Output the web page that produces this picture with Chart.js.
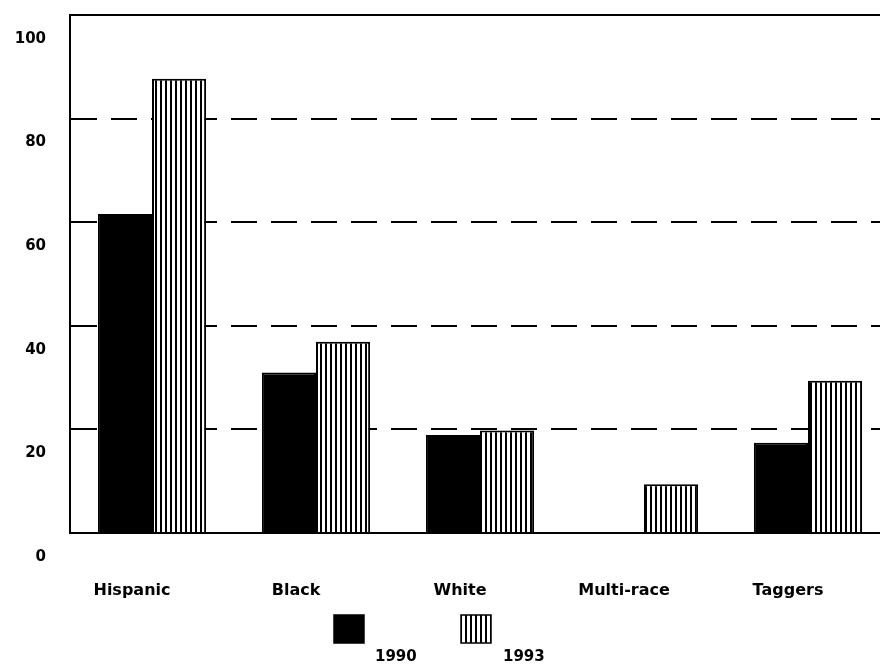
<!DOCTYPE html>
<html>
<head>
<meta charset="utf-8">
<title>1990 vs 1993</title>
<script src="https://cdn.jsdelivr.net/npm/chart.js@4.4.1/dist/chart.umd.min.js"></script>
<style>
  html, body { margin: 0; padding: 0; background: #fff; overflow: hidden; }
  #wrap { position: absolute; left: 0; top: 0; width: 890px; height: 666px; }
</style>
</head>
<body>
<div id="wrap"><canvas id="chart" width="890" height="666"></canvas></div>
<script>
// data
const categories = ['Hispanic', 'Black', 'White', 'Multi-race', 'Taggers'];
const values1990 = [61.6, 31.0, 18.9, null, 17.4];
const values1993 = [87.7, 36.9, 19.8, 9.4, 29.4];
const yTicks = [0, 20, 40, 60, 80, 100];
const seriesNames = ['1990', '1993'];

const FONT = '"DejaVu Sans", sans-serif';

// vertical hatch used for the 1993 bars
function makeHatch() {
    const c = document.createElement('canvas');
    c.width = 5; c.height = 5;
    const g = c.getContext('2d');
    g.fillStyle = '#fff';
    g.fillRect(0, 0, 5, 5);
    g.fillStyle = '#000';
    g.fillRect(0, 0, 2, 5);
    return g.createPattern(c, 'repeat');
}

const ctx = document.getElementById('chart').getContext('2d');
const hatch = makeHatch();

// solid top frame line + the legend under the axis
const extras = {
    id: 'extras',
    afterDraw(chart) {
        const g = chart.ctx;
        const a = chart.chartArea;
        g.save();
        g.strokeStyle = '#000';
        g.lineWidth = 2;
        g.beginPath();
        g.moveTo(a.left, a.top);
        g.lineTo(chart.width, a.top);
        g.stroke();

        // legend: box, label below to the right
        const boxes = [{ x: 334, tx: 375 }, { x: 461, tx: 503 }];
        g.font = 'bold 15px ' + FONT;
        g.textBaseline = 'top';
        g.textAlign = 'left';
        chart.data.datasets.forEach((ds, i) => {
            const b = boxes[i];
            g.fillStyle = ds.backgroundColor;
            g.fillRect(b.x, 615, 30, 28);
            g.lineWidth = 1.5;
            g.strokeStyle = '#000';
            g.strokeRect(b.x, 615, 30, 28);
            g.fillStyle = '#000';
            g.fillText(seriesNames[i], b.tx, 650);
        });
        g.restore();
    }
};

new Chart(ctx, {
    type: 'bar',
    data: {
        labels: categories,
        datasets: [
            {
                label: seriesNames[0],
                data: values1990,
                backgroundColor: '#000',
                borderColor: '#000',
                borderWidth: 2,
                categoryPercentage: 0.66,
                barPercentage: 1.0
            },
            {
                label: seriesNames[1],
                data: values1993,
                backgroundColor: hatch,
                borderColor: '#000',
                borderWidth: 2,
                categoryPercentage: 0.66,
                barPercentage: 1.0
            }
        ]
    },
    options: {
        responsive: false,
        animation: false,
        layout: { padding: { top: 15, right: 0, bottom: 63, left: 0 } },
        plugins: {
            legend: { display: false },
            tooltip: { enabled: false }
        },
        scales: {
            x: {
                grid: { display: false },
                border: { display: true, color: '#000', width: 2 },
                ticks: {
                    color: '#000',
                    font: { family: FONT, size: 16, weight: 'bold' },
                    padding: 40,
                    labelOffset: -20,
                    maxRotation: 0
                },
                afterFit(scale) {
                    scale.height = 70;
                    scale.paddingLeft = 0;
                    scale.paddingRight = 0;
                }
            },
            y: {
                min: 0,
                max: 100,
                afterBuildTicks(scale) { scale.ticks = yTicks.map(v => ({ value: v })); },
                grid: {
                    drawTicks: false,
                    lineWidth: 2,
                    color: c => (c.tick && (c.tick.value === 0 || c.tick.value === 100)) ? 'rgba(0,0,0,0)' : '#000'
                },
                border: { display: true, color: '#000', width: 2, dash: [26, 14] },
                ticks: {
                    color: '#000',
                    font: { family: FONT, size: 15, weight: 'bold' },
                    padding: 24,
                    labelOffset: 24
                },
                afterFit(scale) {
                    scale.width = 70;
                    scale.paddingTop = 0;
                    scale.paddingBottom = 0;
                }
            }
        }
    },
    plugins: [extras]
});
</script>
</body>
</html>
